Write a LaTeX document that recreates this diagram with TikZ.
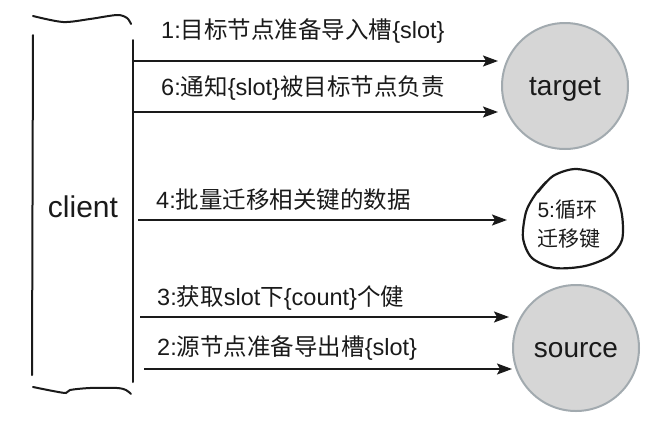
\documentclass[tikz,border=0pt]{standalone}
\usepackage{fontspec}
\setmainfont{Liberation Sans}
\newfontfamily\zh{Noto Sans CJK SC}
\usepackage{tikz}
\usetikzlibrary{arrows.meta, positioning}
\definecolor{NodeFill}{HTML}{D6D6D6}
\definecolor{NodeRim}{HTML}{A2AAAF}
\definecolor{Ink}{HTML}{1A1A1A}

\begin{document}
\begin{tikzpicture}[
  x=1pt, y=-1pt,
  font=\fontsize{23.5}{28}\selectfont,
  >={Stealth[length=15pt, width=11pt, inset=3pt]},
  circ/.style={circle, draw=NodeRim, fill=NodeFill, line width=2pt,
               minimum size=126pt, inner sep=0pt, text=Ink,
               text height=19pt, text depth=0pt,
               font=\fontsize{28}{32}\selectfont},
  lbl/.style={anchor=west, inner sep=0pt, text=Ink},
  arr/.style={->, draw=Ink, line width=1.8pt, shorten >=3pt},
  pen/.style={draw=Ink, line width=2pt, line cap=round},
]
\useasboundingbox (0,0) rectangle (662,432);
% client bracket
\node[text=Ink, font=\fontsize{30}{34}\selectfont] (client) at (83,207) {client};
\draw[pen] (33,35) -- (32,375);
\draw[pen] (133,40) -- (133,382);
\draw[pen] plot[smooth] coordinates {(33,16) (63,22) (90,19) (117,15) (127,18) (131,24)};
\draw[pen] plot[smooth] coordinates {(33,387) (53,391) (66,393) (70,390) (90,388) (117,388) (126,390) (131,394)};
% servers
\node[circ] (tgt) at (565,86) {target};
\node[circ] (src) at (576,348) {source};
% step 5 loop
\node[text=Ink, align=left, inner sep=0pt, font=\fontsize{21}{29}\selectfont]
  (loop) at (569,224) {5:{\zh 循环}\\{\zh 迁移键}};
\draw[pen, line width=2.2pt] plot[smooth] coordinates {(538,192) (553,176) (575,169) (600,175) (615,192)
  (622,215) (622,240) (610,256) (585,266) (555,268) (532,258) (523,238) (526,212) (535,195) (546,182)};
% arrow starts
\coordinate (c1) at (133,61);
\coordinate (c6) at (133,112);
\coordinate (c4) at (138,220);
\coordinate (c3) at (140,317);
\coordinate (c2) at (144,369);
\coordinate (e4) at (507,220);
\draw[arr] (c1) -- (c1 -| tgt.west);
\draw[arr] (c6) -- (c6 -| tgt.west);
\draw[arr, shorten >=0pt] (c4) -- (e4);
\draw[arr] (c3) -- (c3 -| src.west);
\draw[arr, shorten >=0pt] (c2) -- (c2 -| src.west);
% labels
\node[lbl] (l1) at (161,31) {1:{\zh 目标节点准备导入槽}\{slot\}};
\node[lbl] (l6) at (161,88) {6:{\zh 通知}\{slot\}{\zh 被目标节点负责}};
\node[lbl] (l4) at (156,200) {4:{\zh 批量迁移相关键的数据}};
\node[lbl] (l3) at (157,298) {3:{\zh 获取}slot{\zh 下}\{count\}{\zh 个健}};
\node[lbl] (l2) at (157,348) {2:{\zh 源节点准备导出槽}\{slot\}};
\end{tikzpicture}
\end{document}
